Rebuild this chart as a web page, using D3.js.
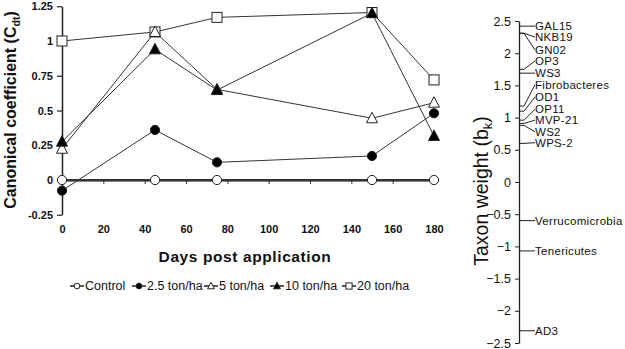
<!DOCTYPE html>
<html><head><meta charset="utf-8">
<script src="https://cdn.jsdelivr.net/npm/d3@7"></script>
<style>
body{margin:0;background:#fff;}
text{font-family:Arial,"Liberation Sans",sans-serif;fill:#111;}
</style></head>
<body><svg id="c" width="625" height="349"></svg>
<script>
const days = [0, 45, 75, 150, 180];
const seriesNames = ["Control", "2.5 ton/ha", "5 ton/ha", "10 ton/ha", "20 ton/ha"];
const control = [0, 0, 0, 0, 0];
const ton2_5 = [-0.077, 0.36, 0.127, 0.173, 0.48];
const ton5 = [0.225, 1.065, 0.652, 0.444, 0.556];
const ton10 = [0.276, 0.94, 0.647, 1.2, 0.317];
const ton20 = [1.0, 1.065, 1.17, 1.205, 0.72];
const xTicks = [0, 20, 40, 60, 80, 100, 120, 140, 160, 180];
const yTicks = [-0.25, 0, 0.25, 0.5, 0.75, 1, 1.25];
const yTickLabels = ["-0.25", "0", "0.25", "0.5", "0.75", "1", "1.25"];

const taxa = ["GAL15", "NKB19", "GN02", "OP3", "WS3", "Fibrobacteres", "OD1", "OP11", "MVP-21", "WS2", "WPS-2", "Verrucomicrobia", "Tenericutes", "AD3"];
const taxonWeights = [2.42, 2.31, 2.31, 1.75, 1.69, 1.18, 1.10, 0.96, 0.91, 0.88, 0.60, -0.60, -1.07, -2.31];
const taxonLabelPos = [2.42, 2.25, 2.05, 1.88, 1.69, 1.51, 1.32, 1.13, 0.96, 0.78, 0.61, -0.60, -1.07, -2.31];
const bTicks = [-2.5, -2, -1.5, -1, -0.5, 0, 0.5, 1, 1.5, 2, 2.5];

const svg = d3.select("#c");
const x = d3.scaleLinear().domain([0, 180]).range([62, 434]);
const y = d3.scaleLinear().domain([-0.25, 1.25]).range([214.75, 6.25]);

// left y axis
const ya = svg.append("g").attr("transform", "translate(62,0)")
  .call(d3.axisLeft(y).tickValues(yTicks).tickFormat((d, i) => yTickLabels[i]).tickSize(5).tickSizeOuter(0).tickPadding(4));
ya.select(".domain").attr("stroke", "#222").attr("stroke-width", 1.5);
ya.selectAll(".tick line").attr("stroke", "#222").attr("stroke-width", 1.2);
ya.selectAll("text").style("font-size", "11px").style("font-weight", "bold").attr("fill", "#111");

// x axis at y=0
const xa = svg.append("g").attr("transform", `translate(0,${y(0)})`)
  .call(d3.axisBottom(x).tickValues(xTicks).tickSize(4).tickSizeOuter(0).tickPadding(0));
xa.select(".domain").attr("stroke", "#111").attr("stroke-width", 2.2);
xa.selectAll(".tick line").attr("stroke", "#333").attr("stroke-width", 1);
xa.selectAll("text").attr("y", 49).attr("dy", "0.35em").style("font-size", "11px").style("font-weight", "bold").attr("fill", "#111");

// titles
svg.append("text").attr("x", 245).attr("y", 262).attr("text-anchor", "middle")
  .style("font-size", "15.5px").style("font-weight", "bold").style("letter-spacing", "0.6px").text("Days post application");
const lt = svg.append("text").attr("transform", "translate(16,110) rotate(-90)").attr("text-anchor", "middle")
  .style("font-size", "16px").style("font-weight", "bold");
lt.append("tspan").text("Canonical coefficient (C");
lt.append("tspan").attr("dy", 4).style("font-size", "10.5px").text("dt");
lt.append("tspan").attr("dy", -4).text(")");

const allSeries = [control, ton2_5, ton5, ton10, ton20];
const markerType = ["circleOpen", "circleFill", "triOpen", "triFill", "sqOpen"];
const line = d3.line().x((d, i) => x(days[i])).y(d => y(d));

function drawMarker(g, type, cx, cy, s) {
  if (type === "circleOpen" || type === "circleFill") {
    g.append("circle").attr("cx", cx).attr("cy", cy).attr("r", 4.6 * s)
      .attr("fill", type === "circleFill" ? "#000" : "#fff").attr("stroke", "#222").attr("stroke-width", 1);
  } else if (type === "triOpen" || type === "triFill") {
    const h = 10 * s, w = 11 * s;
    g.append("path").attr("d", `M${cx},${cy - h * 0.6}L${cx + w / 2},${cy + h * 0.45}L${cx - w / 2},${cy + h * 0.45}Z`)
      .attr("fill", type === "triFill" ? "#000" : "#fff").attr("stroke", "#222").attr("stroke-width", 1);
  } else {
    const a = 10 * s;
    g.append("rect").attr("x", cx - a / 2).attr("y", cy - a / 2).attr("width", a).attr("height", a)
      .attr("fill", "#fff").attr("stroke", "#222").attr("stroke-width", 1);
  }
}

const order = [4, 2, 3, 1, 0];
order.forEach(k => {
  svg.append("path").datum(allSeries[k]).attr("d", line).attr("fill", "none")
    .attr("stroke", "#333").attr("stroke-width", k === 0 ? 2 : 1);
});
order.forEach(k => {
  const g = svg.append("g");
  allSeries[k].forEach((v, i) => drawMarker(g, markerType[k], x(days[i]), y(v), 1));
});

// legend
const legX = [70, 132, 204, 270, 342];
seriesNames.forEach((n, k) => {
  const g = svg.append("g");
  const lx = legX[k], ly = 286;
  g.append("line").attr("x1", lx).attr("x2", lx + 14).attr("y1", ly).attr("y2", ly).attr("stroke", "#222").attr("stroke-width", 1.5);
  drawMarker(g, markerType[k], lx + 7, ly, 0.62);
  g.append("text").attr("x", lx + 15).attr("y", ly).attr("dy", "0.35em").style("font-size", "12.5px").text(n);
});

// right chart
const b = d3.scaleLinear().domain([-2.5, 2.5]).range([343, 21]);
const ba = svg.append("g").attr("transform", "translate(519,0)")
  .call(d3.axisLeft(b).tickValues(bTicks).tickFormat(d => d3.format("")(d)).tickSize(4).tickSizeOuter(0).tickPadding(4));
ba.select(".domain").attr("stroke", "#222").attr("stroke-width", 1.3);
ba.selectAll(".tick line").attr("stroke", "#222");
ba.selectAll("text").style("font-size", "12.5px").attr("fill", "#111");

taxa.forEach((t, i) => {
  const y0 = b(taxonWeights[i]), y1 = b(taxonLabelPos[i]);
  svg.append("path").attr("d", `M519,${y0}L524,${y0}L535,${y1}`).attr("fill", "none").attr("stroke", "#222").attr("stroke-width", 1);
  svg.append("text").attr("x", 535).attr("y", y1).attr("dy", "0.35em").style("font-size", "11.5px").style("letter-spacing", "0.3px").text(t);
});

const rt = svg.append("text").attr("transform", "translate(488,191) rotate(-90)").attr("text-anchor", "middle")
  .style("font-size", "19.5px");
rt.append("tspan").text("Taxon weight (b");
rt.append("tspan").attr("dy", 4).style("font-size", "13px").text("k");
rt.append("tspan").attr("dy", -4).text(")");
</script></body></html>
